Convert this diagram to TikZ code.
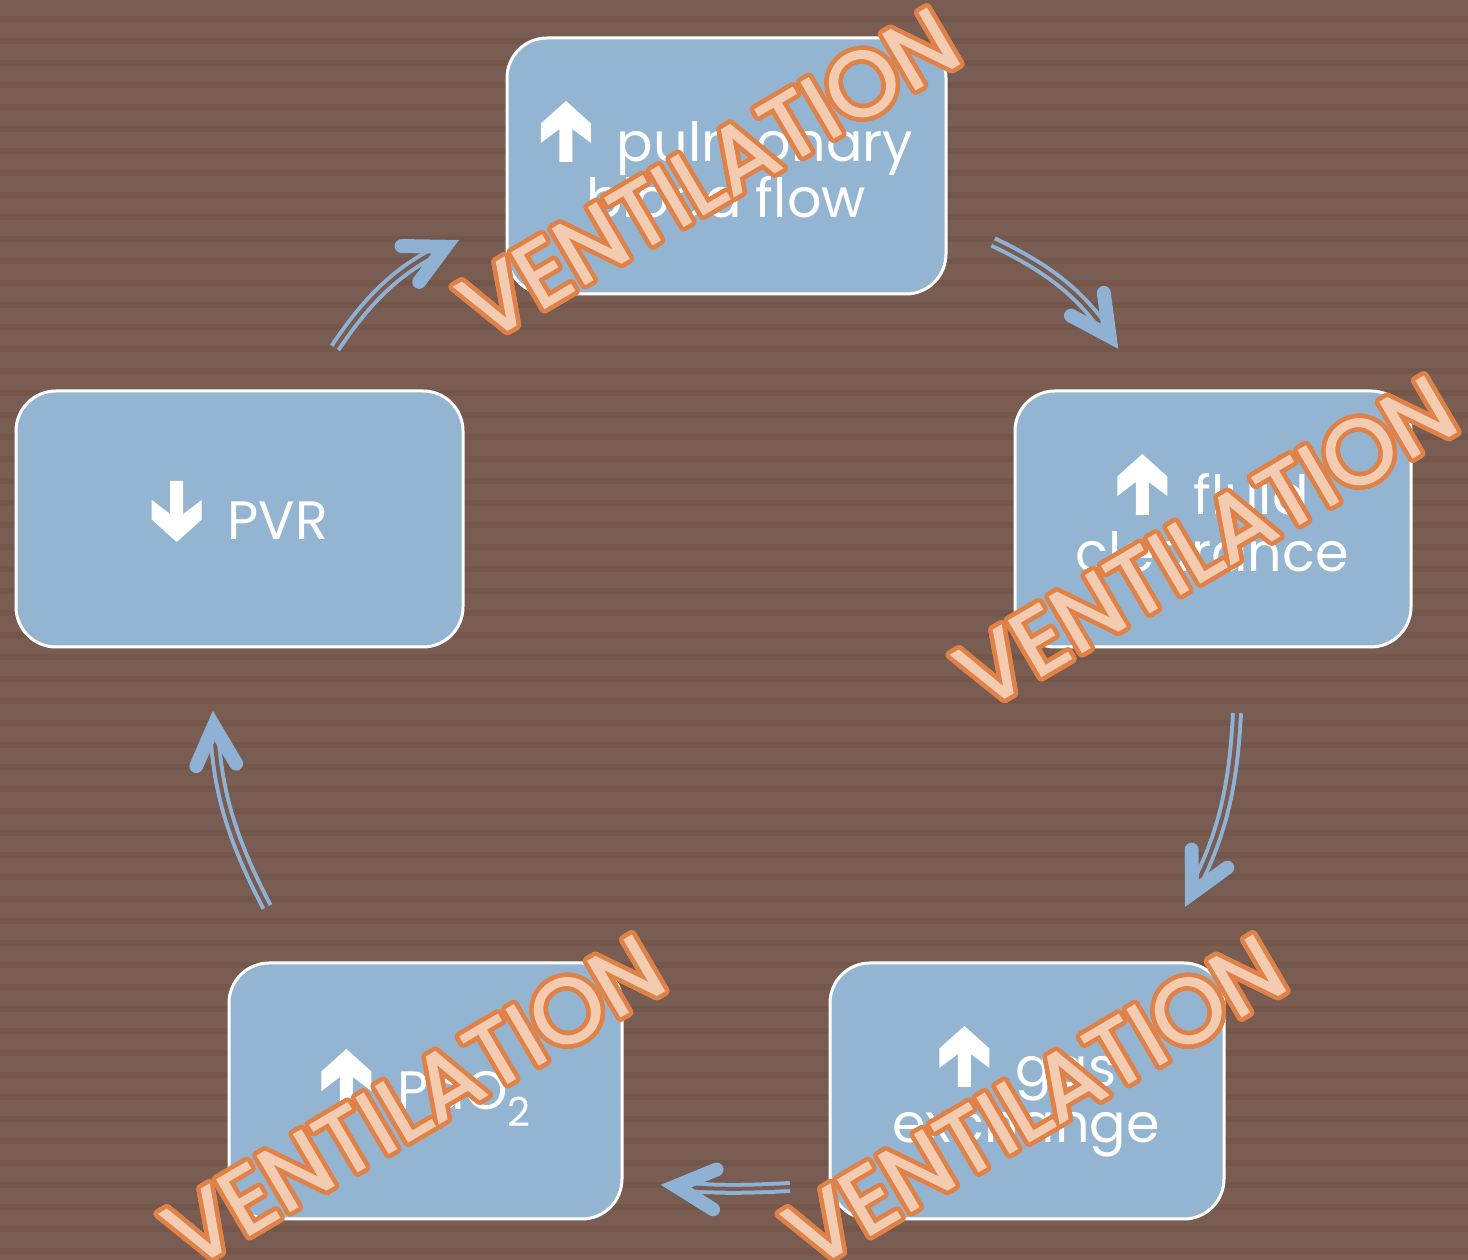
\documentclass[tikz,border=0pt]{standalone}
\usepackage{fontspec}
\setmainfont{Poppins}
\newfontfamily\stampfont[FakeBold=1.6]{Poppins}
\usepackage{contour}
\usetikzlibrary{decorations.markings}
\definecolor{bgbase}{RGB}{122,93,82}
\definecolor{bgstripe}{RGB}{116,86,74}
\definecolor{boxblue}{RGB}{148,181,210}
\definecolor{arrblue}{RGB}{143,178,212}
\definecolor{stampfill}{RGB}{242,203,177}
\definecolor{stampline}{RGB}{224,130,72}
\contourlength{4.5pt}
\contournumber{32}
\newcommand\uparr{\tikz[baseline=0pt,x=1pt,y=1pt]\fill[white] (0,61) -- (25,38.5) -- (25,19) -- (6.5,33) -- (6.5,0) -- (-6.5,0) -- (-6.5,33) -- (-25,19) -- (-25,38.5) -- cycle;}
\newcommand\downarr{\tikz[baseline=0pt,x=1pt,y=1pt]\fill[white] (0,-2) -- (25,20.5) -- (25,40) -- (6.5,26) -- (6.5,59) -- (-6.5,59) -- (-6.5,26) -- (-25,40) -- (-25,20.5) -- cycle;}
\newcommand\cycarrow[3]{%
  \begin{scope}[shift={(2.5pt,-3pt)},opacity=.28]
    \draw[black,line width=12pt,shorten >=18pt] (#1) to[bend left=#3] (#2);
    \path[decorate,decoration={markings,mark=at position 1 with {\draw[headline,black] (-52pt,20pt) -- (-13pt,0pt) -- (-52pt,-20pt);}}] (#1) to[bend left=#3] (#2);
  \end{scope}
  \draw[dline,shorten >=18pt] (#1) to[bend left=#3] (#2);
  \path[decorate,decoration={markings,mark=at position 1 with {\draw[headline] (-52pt,20pt) -- (-13pt,0pt) -- (-52pt,-20pt);}}] (#1) to[bend left=#3] (#2);
}
\begin{document}
\begin{tikzpicture}[x=1pt,y=1pt,
  cbox/.style={draw=white,line width=3pt,fill=boxblue,rounded corners=40pt,minimum height=256pt,inner sep=0pt},
  lbl/.style={text=white,inner sep=0pt,anchor=base,font=\fontsize{54}{54}\selectfont},
  dline/.style={draw=arrblue,line width=4pt,double=bgbase,double distance=4pt},
  headline/.style={draw=arrblue,line width=14pt,line cap=round,line join=miter},
  stamp/.style={rotate=30.5,inner sep=0pt,text=stampfill,font=\stampfont\fontsize{92}{92}\selectfont}]
\fill[bgbase] (0,0) rectangle (1468,1260);
\useasboundingbox (0,0) rectangle (1468,1260);
\foreach \k in {0,...,56} \fill[bgstripe] (0,{1244-22*\k}) rectangle (1468,{1238-22*\k});
% boxes
\node[cbox,minimum width=439pt] (b1) at (726.5,1094) {};
\node[cbox,minimum width=396pt] (b2) at (1213,741) {};
\node[cbox,minimum width=394pt] (b3) at (1027,169) {};
\node[cbox,minimum width=393pt] (b4) at (425.5,169) {};
\node[cbox,minimum width=447pt] (b5) at (239.5,741) {};
% texts
\node[lbl] (t1a) at (727,1098) {\uparr\hspace{26pt}pulmonary};
\node[lbl] (t1b) at (726,1042) {blood flow};
\node[lbl] (t2a) at (1213,745) {\uparr\hspace{26pt}fluid};
\node[lbl] (t2b) at (1212,688) {clearance};
\node[lbl] (t3a) at (1028,173) {\uparr\hspace{26pt}gas};
\node[lbl] (t3b) at (1026,117) {exchange};
\node[lbl] (t4a) at (426,150) {\uparr\hspace{26pt}PaO\raisebox{-17pt}{\fontsize{40}{40}\selectfont 2}};
\node[lbl] (t5a) at (240,720) {\downarr\hspace{26pt}PVR};
% arrows
\coordinate (a1s) at (335,912);  \coordinate (a1e) at (457,1019);
\coordinate (a2s) at (993,1018); \coordinate (a2e) at (1117,913);
\coordinate (a3s) at (1237,547); \coordinate (a3e) at (1186,355);
\coordinate (a4s) at (790,73);   \coordinate (a4e) at (663,75);
\coordinate (a5s) at (267,353);  \coordinate (a5e) at (213,547);
\cycarrow{a1s}{a1e}{15}
\cycarrow{a2s}{a2e}{15}
\cycarrow{a3s}{a3e}{12}
\cycarrow{a4s}{a4e}{4}
\cycarrow{a5s}{a5e}{12}
% stamps
\node[stamp] (v1) at (710,1084) {\contour{stampline}{VENTILATION}};
\node[stamp] (v2) at (1207,716) {\contour{stampline}{VENTILATION}};
\node[stamp] (v3) at (1036,157) {\contour{stampline}{VENTILATION}};
\node[stamp] (v4) at (415,157) {\contour{stampline}{VENTILATION}};
\end{tikzpicture}
\end{document}
